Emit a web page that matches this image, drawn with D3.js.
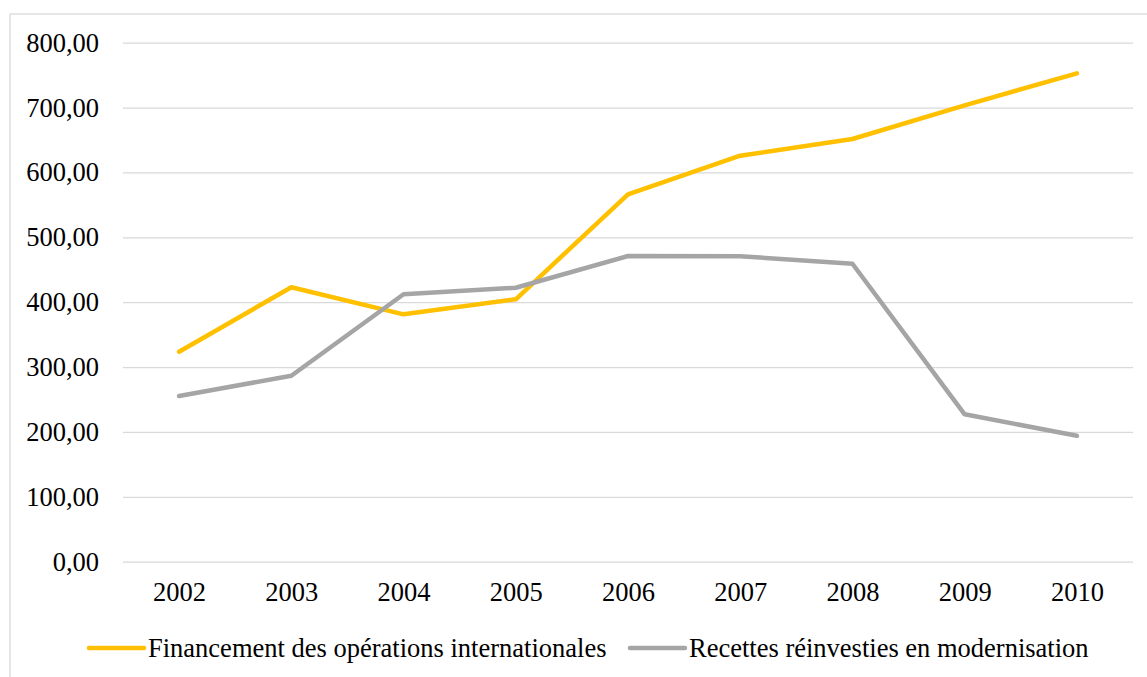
<!DOCTYPE html>
<html><head><meta charset="utf-8">
<script src="https://cdn.jsdelivr.net/npm/d3@7"></script>
<style>
html,body{margin:0;padding:0;background:#fff;}
svg{display:block;}
</style></head>
<body>
<svg id="chart" width="1147" height="677"></svg>
<script>
const years = ["2002","2003","2004","2005","2006","2007","2008","2009","2010"];
const financement = [323.7, 423.0, 381.3, 404.5, 566.3, 625.8, 651.6, 703.5, 752.8];
const recettes = [255.4, 286.7, 412.2, 422.3, 471.2, 470.8, 459.3, 227.2, 194.2];
const seriesNames = ["Financement des opérations internationales", "Recettes réinvesties en modernisation"];
const seriesColors = ["#FFC000", "#A5A5A5"];
const yTicks = [0, 100, 200, 300, 400, 500, 600, 700, 800];

(function () {
const FONT = "'Times New Roman', 'Liberation Serif', serif";
const FS = "26.5px";
const svg = d3.select("#chart");
const W = 1147, H = 677;
const pLeft = 123, pRight = 1133, pTop = 42.7, pBottom = 561.7;

function styleText(sel) {
  sel.style("font-family", FONT, "important").style("font-size", FS, "important").attr("fill", "#000");
}

// frame
svg.append("rect").attr("x", 10).attr("y", 14).attr("width", W + 20).attr("height", H + 20)
  .attr("fill", "none").attr("stroke", "#d9d9d9").attr("stroke-width", 1.3);

const x = d3.scalePoint().domain(years).range([pLeft, pRight]).padding(0.5);
const y = d3.scaleLinear().domain([0, 800]).range([pBottom, pTop]);

const fmt = v => d3.format(".2f")(v).replace(".", ",");

// gridlines + y labels
const yAxis = d3.axisLeft(y).tickValues(yTicks).tickSize(-(pRight - pLeft)).tickFormat(fmt).tickPadding(24);
const gy = svg.append("g").attr("transform", `translate(${pLeft},0)`).call(yAxis);
gy.attr("font-family", null).attr("font-size", null);
gy.select(".domain").remove();
gy.selectAll(".tick line").attr("stroke", "#d9d9d9").attr("stroke-width", 1.3);
styleText(gy.selectAll(".tick text"));

// x labels
const xAxis = d3.axisBottom(x).tickSize(0).tickPadding(20);
const gx = svg.append("g").attr("transform", `translate(0,${pBottom})`).call(xAxis);
gx.attr("font-family", null).attr("font-size", null);
gx.select(".domain").remove();
styleText(gx.selectAll(".tick text"));

// lines
const line = d3.line().x((d, i) => x(years[i])).y(d => y(d));
[financement, recettes].forEach((s, k) => {
  svg.append("path").datum(s).attr("d", line).attr("fill", "none")
    .attr("stroke", seriesColors[k]).attr("stroke-width", 4.5)
    .attr("stroke-linecap", "round").attr("stroke-linejoin", "round");
});

// legend
const legY = 648;
const legStarts = [89, 630];
seriesNames.forEach((n, k) => {
  svg.append("line").attr("x1", legStarts[k]).attr("x2", legStarts[k] + 55).attr("y1", legY).attr("y2", legY)
    .attr("stroke", seriesColors[k]).attr("stroke-width", 4.5).attr("stroke-linecap", "round");
  styleText(svg.append("text").attr("x", legStarts[k] + 59).attr("y", legY + 8.5).text(n));
});
})();
</script>
</body></html>
